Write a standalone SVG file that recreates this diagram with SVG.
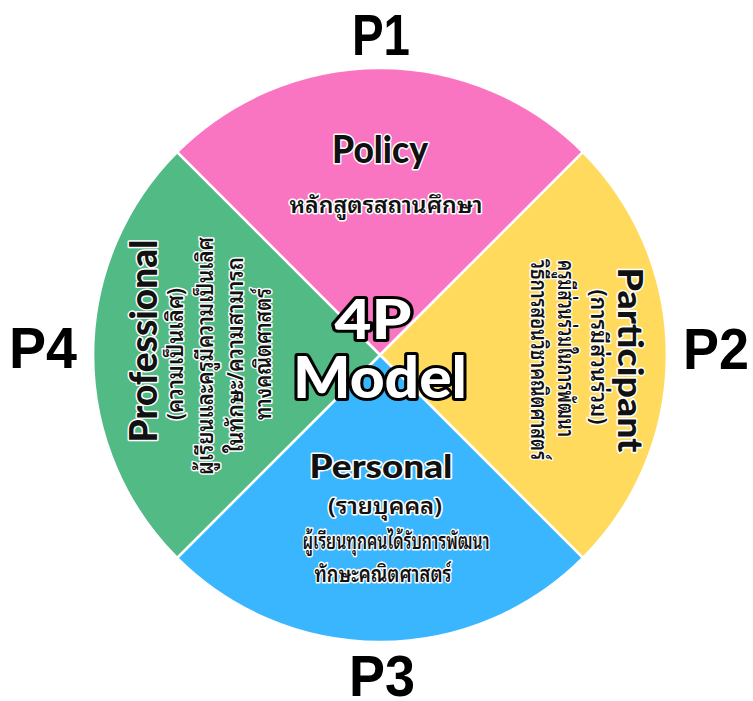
<svg xmlns="http://www.w3.org/2000/svg" width="753" height="701" viewBox="0 0 753 701">
  <style>
    .bg { fill: #ffffff; }
    .sector { stroke: #ffffff; stroke-width: 2.5; stroke-linejoin: miter; }
    .plabel { font-family: "Liberation Sans", Arial, sans-serif; font-weight: 700; font-size: 57px; fill: #000000; text-anchor: middle; }
    .head { font-family: "Lato", "Open Sans", "Noto Sans", sans-serif; font-weight: 900; fill: #111111; stroke: #ffffff; stroke-width: 3; paint-order: stroke; stroke-linejoin: round; text-anchor: middle; }
    .thai { font-family: "Noto Sans Thai Looped", "Noto Sans Thai", "Noto Sans", sans-serif; font-weight: 600; font-size: 22px; fill: #111111; stroke: #ffffff; stroke-width: 3; paint-order: stroke; stroke-linejoin: round; text-anchor: middle; }
    .title { font-family: "Lato", "Open Sans", "Noto Sans", sans-serif; font-weight: 900; fill: #ffffff; stroke: #000000; stroke-width: 6; paint-order: stroke; stroke-linejoin: round; text-anchor: middle; }
  </style>

  <rect class="bg" x="0" y="0" width="753" height="701"/>

  <!-- P1: Policy (top) -->
  <g id="policy">
    <path class="sector" fill="#F975C1" d="M380,355 L177.1,152.1 A287,287 0 0 1 582.9,152.1 Z"/>
    <text class="head" x="380" y="163" font-size="38" textLength="96" lengthAdjust="spacingAndGlyphs">Policy</text>
    <text class="thai" x="386" y="213" textLength="193" lengthAdjust="spacingAndGlyphs">หลักสูตรสถานศึกษา</text>
  </g>

  <!-- P2: Participant (right) -->
  <g id="participant">
    <path class="sector" fill="#FFDA5C" d="M380,355 L582.9,152.1 A287,287 0 0 1 582.9,557.9 Z"/>
    <text class="head" transform="translate(618,360) rotate(90)" x="0" y="0" font-size="35" textLength="185" lengthAdjust="spacingAndGlyphs">Participant</text>
    <text class="thai" transform="translate(591,357) rotate(90)" x="0" y="0" textLength="135" lengthAdjust="spacingAndGlyphs">(การมีส่วนร่วม)</text>
    <text class="thai" transform="translate(558,260) rotate(90)" x="0" y="0" style="text-anchor:start" textLength="177" lengthAdjust="spacingAndGlyphs">ครูมีส่วนร่วมในการพัฒนา</text>
    <text class="thai" transform="translate(531,260) rotate(90)" x="0" y="0" style="text-anchor:start" textLength="200" lengthAdjust="spacingAndGlyphs">วิธีการสอนวิชาคณิตศาสตร์</text>
  </g>

  <!-- P3: Personal (bottom) -->
  <g id="personal">
    <path class="sector" fill="#3AB6FF" d="M380,355 L582.9,557.9 A287,287 0 0 1 177.1,557.9 Z"/>
    <text class="head" x="381" y="478" font-size="32" textLength="143" lengthAdjust="spacingAndGlyphs">Personal</text>
    <text class="thai" x="385" y="514" textLength="114" lengthAdjust="spacingAndGlyphs">(รายบุคคล)</text>
    <text class="thai" x="396" y="549" textLength="187" lengthAdjust="spacingAndGlyphs">ผู้เรียนทุกคนได้รับการพัฒนา</text>
    <text class="thai" x="383" y="582" textLength="137" lengthAdjust="spacingAndGlyphs">ทักษะคณิตศาสตร์</text>
  </g>

  <!-- P4: Professional (left) -->
  <g id="professional">
    <path class="sector" fill="#52BA85" d="M380,355 L177.1,557.9 A287,287 0 0 1 177.1,152.1 Z"/>
    <text class="head" transform="translate(157,341) rotate(-90)" x="0" y="0" font-size="38" textLength="203" lengthAdjust="spacingAndGlyphs">Professional</text>
    <text class="thai" transform="translate(183,354) rotate(-90)" x="0" y="0" textLength="132" lengthAdjust="spacingAndGlyphs">(ความเป็นเลิศ)</text>
    <text class="thai" transform="translate(213,356) rotate(-90)" x="0" y="0" textLength="238" lengthAdjust="spacingAndGlyphs">ผู้เรียนและครูมีความเป็นเลิศ</text>
    <text class="thai" transform="translate(243,355) rotate(-90)" x="0" y="0" textLength="196" lengthAdjust="spacingAndGlyphs">ในทักษะ/ความสามารถ</text>
    <text class="thai" transform="translate(271,354) rotate(-90)" x="0" y="0" textLength="132" lengthAdjust="spacingAndGlyphs">ทางคณิตศาสตร์</text>
  </g>

  <!-- centre title -->
  <g id="model-title">
    <text class="title" x="373" y="339" font-size="55" textLength="77" lengthAdjust="spacingAndGlyphs">4P</text>
    <text class="title" x="380" y="398" font-size="58" textLength="174" lengthAdjust="spacingAndGlyphs">Model</text>
  </g>

  <!-- outer labels -->
  <g id="labels">
    <text class="plabel" x="381" y="55" textLength="58" lengthAdjust="spacingAndGlyphs">P1</text>
    <text class="plabel" x="716" y="369" textLength="66" lengthAdjust="spacingAndGlyphs">P2</text>
    <text class="plabel" x="382" y="696" textLength="66" lengthAdjust="spacingAndGlyphs">P3</text>
    <text class="plabel" x="43" y="368" textLength="68" lengthAdjust="spacingAndGlyphs">P4</text>
  </g>
</svg>
